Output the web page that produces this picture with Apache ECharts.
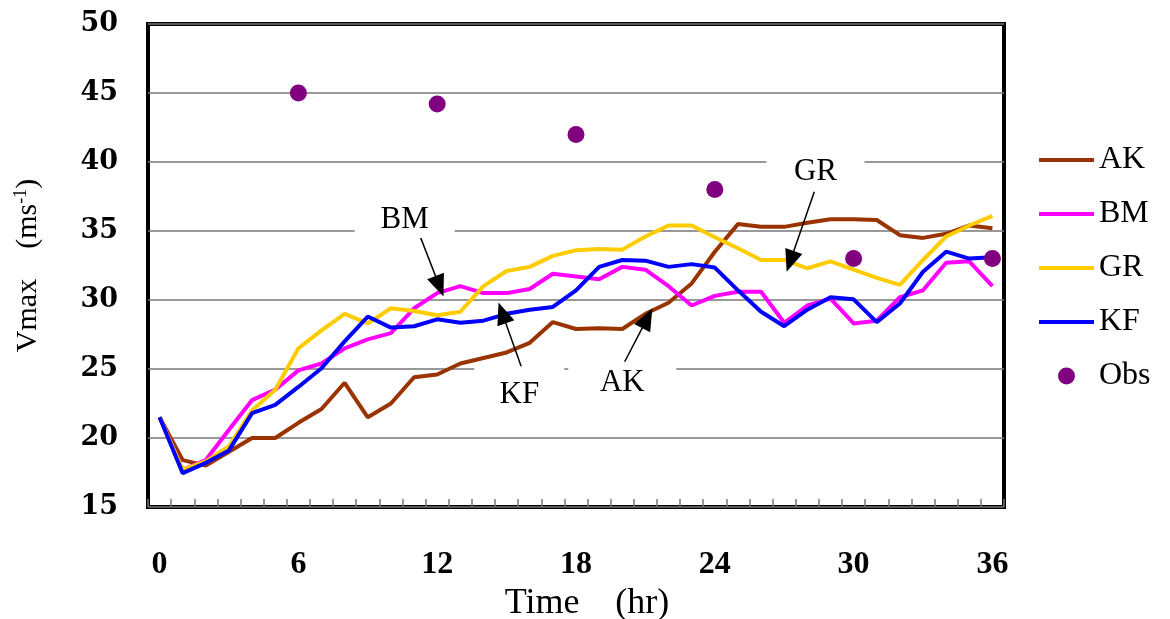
<!DOCTYPE html>
<html>
<head>
<meta charset="utf-8">
<script src="https://cdn.jsdelivr.net/npm/echarts@6/dist/echarts.min.js"></script>
<style>
  html, body { margin: 0; padding: 0; background: #fff; }
  #chart { width: 1170px; height: 619px; }
</style>
</head>
<body>
<div id="chart"></div>
<script>
const hours = [];
for (let h = 0; h <= 36; h++) hours.push(String(h));

const akValues = [21.5, 18.4, 18.0, 19.0, 20.0, 20.0, 21.1, 22.1, 24.0, 21.5, 22.5, 24.4, 24.6,
  25.4, 25.8, 26.2, 26.9, 28.4, 27.9, 27.95, 27.9, 29.0, 29.8, 31.2, 33.5,
  35.5, 35.3, 35.3, 35.6, 35.85, 35.85, 35.8, 34.7, 34.5, 34.8, 35.4, 35.2];
const bmValues = [21.5, 17.7, 18.4, 20.6, 22.75, 23.5, 24.9, 25.4, 26.5, 27.15, 27.6, 29.4, 30.5,
  31.0, 30.5, 30.5, 30.8, 31.9, 31.7, 31.5, 32.4, 32.2, 31.0, 29.6, 30.3,
  30.6, 30.6, 28.35, 29.6, 30.1, 28.3, 28.5, 30.2, 30.7, 32.7, 32.8, 31.0];
const grValues = [21.5, 17.7, 18.3, 19.4, 22.0, 23.5, 26.5, 27.8, 29.0, 28.3, 29.4, 29.2, 28.9,
  29.15, 31.0, 32.1, 32.4, 33.2, 33.6, 33.7, 33.65, 34.6, 35.4, 35.4, 34.55,
  33.75, 32.9, 32.9, 32.3, 32.8, 32.2, 31.6, 31.1, 32.9, 34.6, 35.4, 36.1];
const kfValues = [21.5, 17.45, 18.2, 19.1, 21.8, 22.4, 23.7, 25.05, 27.0, 28.8, 28.0, 28.1, 28.6,
  28.35, 28.5, 29.0, 29.3, 29.5, 30.7, 32.4, 32.9, 32.85, 32.4, 32.6, 32.35,
  30.7, 29.15, 28.1, 29.3, 30.2, 30.05, 28.4, 29.75, 32.05, 33.5, 33.0, 33.1];
const obsHours = [6, 12, 18, 24, 30, 36];
const obsValues = [45.0, 44.2, 42.0, 38.0, 33.0, 33.0];

// call-out text: name, where it sits [hour, value], white box size
const calloutNames = ['BM', 'GR', 'KF', 'AK'];
const calloutAt = [[10.59, 35.8], [28.35, 39.3], [15.55, 23.1], [20.0, 24.0]];
const calloutBox = [[100, 36], [98, 34], [90, 58], [108, 42]];
// arrows: [from, to] in [hour, value]
const arrows = [
  [[11.15, 35.1], [12.1, 31.0]],
  [[28.3, 37.85], [27.26, 32.8]],
  [[15.87, 24.06], [14.81, 29.06]],
  [[20.03, 25.29], [21.08, 28.67]]
];

const serif = "'Liberation Serif', 'Times New Roman', serif";
const lineWidth = 4;

function modelLine(name, color, values) {
  return {
    name: name,
    type: 'line',
    data: values,
    symbol: 'none',
    showSymbol: false,
    lineStyle: { color: color, width: lineWidth },
    itemStyle: { color: color },
    z: 3
  };
}

// legend entry for a line series: line only, no marker
function legendLine(name) {
  return { name: name, itemStyle: { opacity: 0 }, lineStyle: { width: lineWidth } };
}

const chart = echarts.init(document.getElementById('chart'));

const option = {
  animation: false,
  backgroundColor: '#fff',
  grid: {
    left: 148, right: 166, top: 24, bottom: 112,
    outerBoundsMode: 'none',
    containLabel: false,
    show: true, borderColor: '#000', borderWidth: 4
  },
  legend: {
    orient: 'vertical',
    left: 1032,
    top: 139,
    padding: 5,
    itemWidth: 55,
    itemHeight: 17,
    itemGap: 22,
    textStyle: { fontFamily: serif, fontSize: 32, color: '#000' },
    data: [legendLine('AK'), legendLine('BM'), legendLine('GR'), legendLine('KF'), 'Obs']
  },
  xAxis: [
    {
      type: 'category',
      data: hours,
      boundaryGap: true,
      name: 'Time\u3000(hr)',
      nameLocation: 'middle',
      nameGap: 68,
      nameTextStyle: { fontFamily: serif, fontSize: 36, color: '#000', padding: [0, 0, 0, 22] },
      axisLine: { show: false },
      axisTick: { show: true, inside: true, interval: 0, length: 8, lineStyle: { color: '#777', width: 1.5 } },
      axisLabel: { interval: 5, margin: 42, fontFamily: serif, fontWeight: 'bold', fontSize: 32, color: '#000' },
      splitLine: { show: false }
    },
    {
      type: 'value',
      min: -0.5,
      max: 36.5,
      show: false
    }
  ],
  yAxis: {
    type: 'value',
    min: 15,
    max: 50,
    interval: 5,
    name: 'Vmax\u3000(ms{sup|-1})',
    nameLocation: 'middle',
    nameGap: 104,
    nameTextStyle: {
      fontFamily: serif, fontSize: 30, color: '#000',
      rich: { sup: { fontFamily: serif, fontSize: 18, color: '#000', verticalAlign: 'top', padding: [0, 0, 14, 0] } }
    },
    axisLine: { show: false },
    axisTick: { show: false },
    axisLabel: { margin: 30, fontFamily: "'DejaVu Serif', serif", fontWeight: 'bold', fontSize: 27, color: '#000' },
    splitLine: { show: true, lineStyle: { color: '#777', width: 1.5 } }
  },
  series: [
    {
      name: 'callouts',
      type: 'line',
      xAxisIndex: 1,
      yAxisIndex: 0,
      data: [],
      z: 2,
      markPoint: {
        symbol: 'rect',
        itemStyle: { color: '#fff' },
        label: { show: true, position: 'inside', color: '#000', fontFamily: serif, fontSize: 31 },
        data: calloutNames.map((n, i) => ({
          name: n,
          value: n,
          coord: calloutAt[i],
          symbolSize: calloutBox[i]
        }))
      },
      markLine: {
        silent: true,
        symbol: ['none', 'triangle'],
        symbolSize: [18, 22],
        lineStyle: { color: '#000', width: 1.5, type: 'solid' },
        label: { show: false },
        data: arrows.map(a => [{ coord: a[0] }, { coord: a[1] }])
      }
    },
    modelLine('AK', '#993300', akValues),
    modelLine('BM', '#FF00FF', bmValues),
    modelLine('GR', '#FFCC00', grValues),
    modelLine('KF', '#0000FF', kfValues),
    {
      name: 'Obs',
      type: 'scatter',
      data: obsHours.map((h, i) => [String(h), obsValues[i]]),
      symbol: 'circle',
      symbolSize: 17,
      itemStyle: { color: '#800080', opacity: 1 },
      z: 4
    }
  ]
};

chart.setOption(option);
</script>
</body>
</html>
